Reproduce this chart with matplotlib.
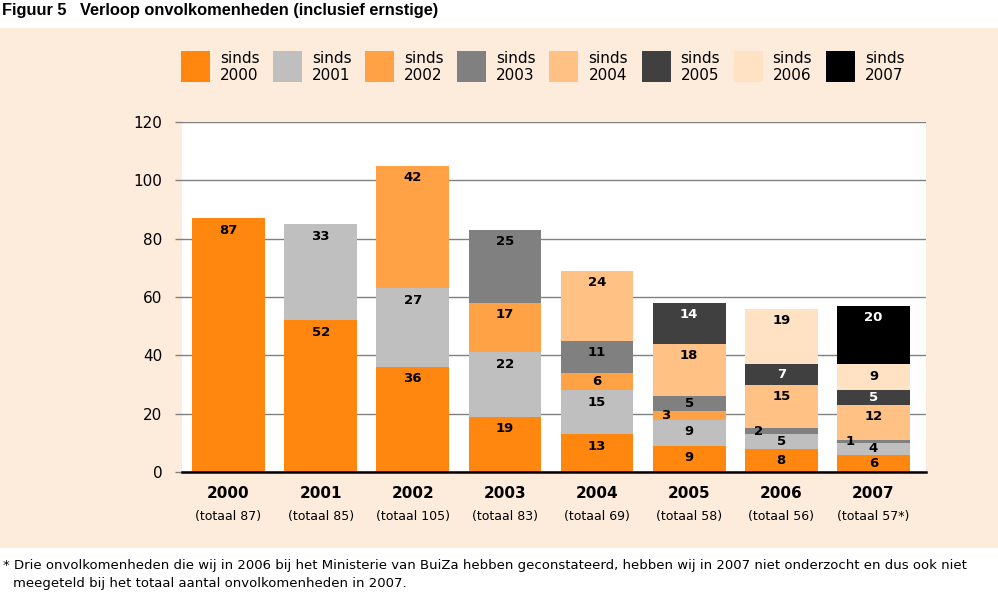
import matplotlib
matplotlib.use("Agg")
import matplotlib.pyplot as plt
from matplotlib.patches import Rectangle
import numpy as np

years = ["2000", "2001", "2002", "2003", "2004", "2005", "2006", "2007"]
series_labels = ["sinds\n2000", "sinds\n2001", "sinds\n2002", "sinds\n2003",
                 "sinds\n2004", "sinds\n2005", "sinds\n2006", "sinds\n2007"]
# values per origin series (sinds XXXX) for each year
sinds2000 = [87, 52, 36, 19, 13, 9, 8, 6]
sinds2001 = [0, 33, 27, 22, 15, 9, 5, 4]
sinds2002 = [0, 0, 42, 17, 6, 3, 0, 0]
sinds2003 = [0, 0, 0, 25, 11, 5, 2, 1]
sinds2004 = [0, 0, 0, 0, 24, 18, 15, 12]
sinds2005 = [0, 0, 0, 0, 0, 14, 7, 5]
sinds2006 = [0, 0, 0, 0, 0, 0, 19, 9]
sinds2007 = [0, 0, 0, 0, 0, 0, 0, 20]
total_suffix = ["", "", "", "", "", "", "", "*"]
yticks = [0, 20, 40, 60, 80, 100, 120]

series = [sinds2000, sinds2001, sinds2002, sinds2003,
          sinds2004, sinds2005, sinds2006, sinds2007]
colors = ["#FF870F", "#BFBFBF", "#FFA245", "#808080",
          "#FFC184", "#404040", "#FFE2C4", "#000000"]
text_colors = ["black", "black", "black", "black", "black", "white", "black", "white"]

W, H = 998, 592
fig = plt.figure(figsize=(W / 100, H / 100), dpi=100)
fig.patch.set_facecolor("white")

# peach panel
panel = Rectangle((0, 1 - 548 / H), 1, (548 - 28) / H,
                  transform=fig.transFigure, facecolor="#FDEBDC",
                  edgecolor="none", zorder=-10)
fig.add_artist(panel)

ax = fig.add_axes([182 / W, 1 - 472 / H, (926 - 182) / W, (472 - 122) / H])
ax.set_zorder(1)
ax.set_facecolor("white")
x = np.arange(len(years))
width = 0.79
bottom = np.zeros(len(years))
px_per_unit = 350 / 120.0
for s, vals in enumerate(series):
    vals = np.array(vals, dtype=float)
    ax.bar(x, vals, width, bottom=bottom, color=colors[s],
           edgecolor="none", zorder=3)
    for i, v in enumerate(vals):
        if v <= 0:
            continue
        top = bottom[i] + v
        ypos = top - min(12 / px_per_unit, v / 2)
        xpos = x[i] - (0.25 if v < 4 else 0)
        ax.text(xpos, ypos, f"{int(v)}", ha="center", va="center",
                fontsize=9.5, fontweight="bold", color=text_colors[s], zorder=5)
    bottom += vals

ax.set_ylim(0, 120)
ax.set_xlim(-0.505, 7.57)
ax.set_yticks(yticks)
ax.set_yticklabels([str(t) for t in yticks], fontsize=11)
ax.yaxis.grid(True, color="#808080", linewidth=1, zorder=1)
ax.set_axisbelow(True)
ax.tick_params(axis="y", length=5, color="#808080", width=1, pad=9)
ax.set_xticks(x)
ax.set_xticklabels(years, fontsize=11, fontweight="bold")
ax.tick_params(axis="x", length=0, pad=10)
for sp in ["top", "right", "left"]:
    ax.spines[sp].set_visible(False)
ax.spines["bottom"].set_color("black")
ax.spines["bottom"].set_linewidth(1.8)
ax.spines["bottom"].set_zorder(6)

totals = np.sum(np.array(series), axis=0)
for i, t in enumerate(totals):
    ax.text(x[i], -15.2, f"(totaal {int(t)}{total_suffix[i]})", ha="center",
            va="center", fontsize=9, transform=ax.transData, clip_on=False)

# legend
for s in range(len(series)):
    lx = 181 + s * 92.1
    fig.add_artist(Rectangle((lx / W, 1 - 82 / H), 29 / W, 31 / H,
                             transform=fig.transFigure, facecolor=colors[s],
                             edgecolor="none", zorder=2))
    fig.text((lx + 39) / W, 1 - 67 / H, series_labels[s], fontsize=11,
             ha="left", va="center", linespacing=1.1)

fig.text(2 / W, 1 - 10 / H, "Figuur 5   Verloop onvolkomenheden (inclusief ernstige)",
         fontsize=11.8, fontweight="bold", ha="left", va="center",
         family="Liberation Sans")
fig.text(3 / W, 1 - 566 / H,
         "* Drie onvolkomenheden die wij in 2006 bij het Ministerie van BuiZa hebben geconstateerd, hebben wij in 2007 niet onderzocht en dus ook niet",
         fontsize=9.5, ha="left", va="center")
fig.text(13 / W, 1 - 584 / H,
         "meegeteld bij het totaal aantal onvolkomenheden in 2007.",
         fontsize=9.5, ha="left", va="center")

fig.savefig("out.png", dpi=100, facecolor=fig.get_facecolor())
